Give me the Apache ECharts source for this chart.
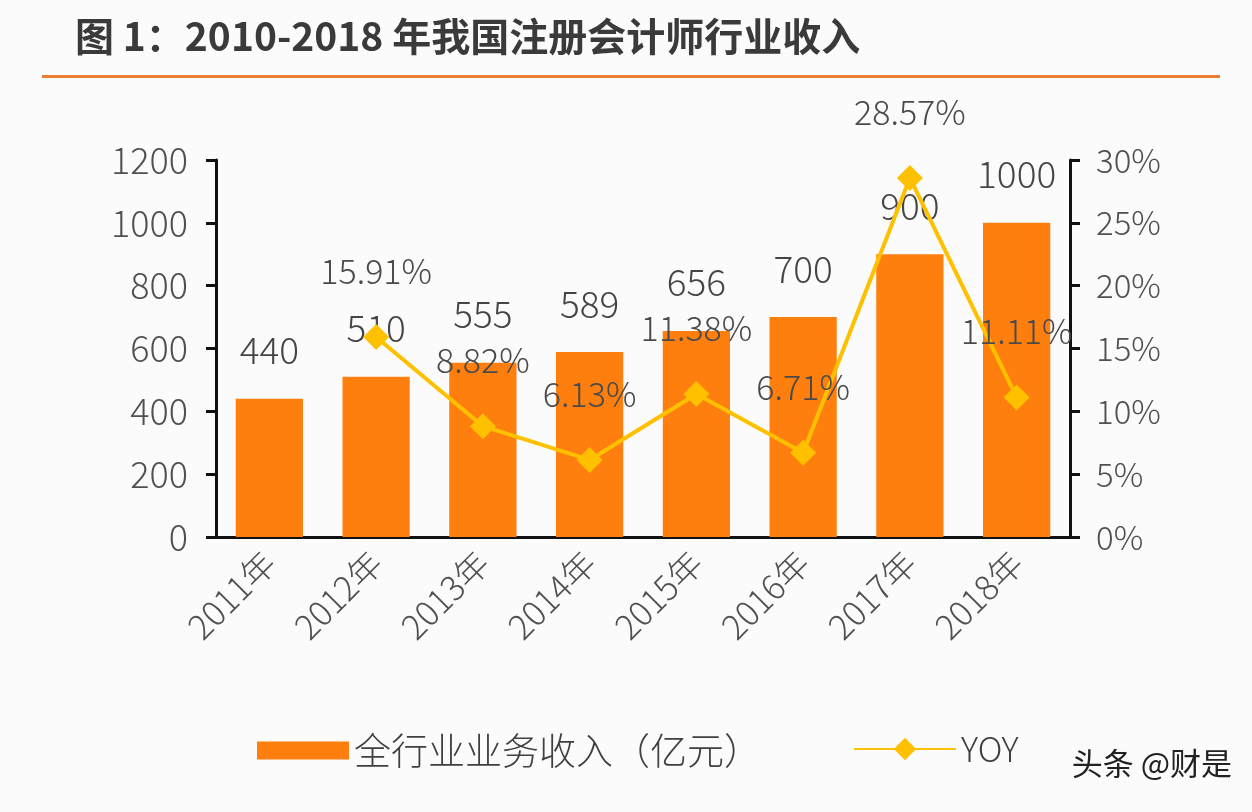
<!DOCTYPE html>
<html><head><meta charset="utf-8">
<script src="https://cdn.jsdelivr.net/npm/echarts@6/dist/echarts.min.js"></script>
<style>html,body{margin:0;padding:0;background:#fbfbfb}#c{width:1252px;height:812px}</style>
</head><body><div id="c"></div>
<script>
const categories = ['2011年','2012年','2013年','2014年','2015年','2016年','2017年','2018年'];
const revenue = [440, 510, 555, 589, 656, 700, 900, 1000];
const yoy = [null, 15.91, 8.82, 6.13, 11.38, 6.71, 28.57, 11.11];
const leftTicks = [0, 200, 400, 600, 800, 1000, 1200];
const rightTicks = [0, 5, 10, 15, 20, 25, 30];
const titleText = '图 1：2010-2018 年我国注册会计师行业收入';
const barName = '全行业业务收入（亿元）';
const lineName = 'YOY';

const font = '"Noto Sans CJK SC", "Noto Sans", sans-serif';
const chart = echarts.init(document.getElementById('c'));
chart.setOption({
  backgroundColor: '#fbfbfb',
  textStyle: {fontFamily: font},
  graphic: [
    {type:'text', left: 75, top: 17, style:{text: titleText, font: 'bold 39px ' + font, fill:'#3a3a3a'}},
    {type:'rect', shape:{x:42, y:75, width:1178, height:3}, style:{fill:'#ED7D31'}},
    {type:'text', right: 20, top: 748, style:{text:'头条 @财是', font: '31px ' + font, fill:'#222'}}
  ],
  grid: {left: 216, right: 182, top: 160, bottom: 275},
  legend: [
    {data:[{name: barName, icon: 'rect'}], left: 252, top: 727, itemWidth: 92, itemHeight: 18, itemGap: 12,
     textStyle:{fontSize: 37, color:'#404040', fontWeight: 300, fontFamily: font}},
    {data:[lineName], left: 848, top: 727, itemWidth: 102, itemHeight: 28,
     textStyle:{fontSize: 34, color:'#404040', fontWeight: 300, fontFamily: font}}
  ],
  xAxis: {
    type: 'category', data: categories,
    axisLine: {show: true, lineStyle: {color: '#111', width: 3}},
    axisTick: {show: false},
    axisLabel: {rotate: 45, fontSize: 34, color: '#505050', margin: 20, fontWeight: 300, interval: 0}
  },
  yAxis: [
    {type:'value', min: 0, max: 1200, interval: 200,
     axisLine:{show:true, lineStyle:{color:'#111', width:3}},
     axisTick:{show:true, length:10, lineStyle:{color:'#111', width:3}},
     splitLine:{show:false},
     axisLabel:{fontSize: 36, color:'#505050', margin: 28, fontWeight: 300,
       formatter: v => leftTicks.includes(v) ? String(v) : ''}},
    {type:'value', min: 0, max: 30, interval: 5, position:'right',
     axisLine:{show:true, lineStyle:{color:'#111', width:3}},
     axisTick:{show:true, length:10, lineStyle:{color:'#111', width:3}},
     splitLine:{show:false},
     axisLabel:{fontSize: 33, color:'#505050', margin: 26, fontWeight: 300,
       formatter: v => rightTicks.includes(v) ? v + '%' : ''}}
  ],
  series: [
    {name: barName, type:'bar', data: revenue, barWidth: '63%', yAxisIndex: 0,
     itemStyle:{color:'#FF7F0E'},
     label:{show:true, position:'top', distance: 30, fontSize: 37, color:'#454545', fontWeight: 300}},
    {name: lineName, type:'line', data: yoy, yAxisIndex: 1, connectNulls: false,
     symbol:'diamond', symbolSize: 26,
     lineStyle:{color:'#FFC000', width: 4}, itemStyle:{color:'#FFC000'},
     label:{show:true, position:'top', distance: 36, fontSize: 34, color:'#4a4a4a', fontWeight: 300,
       formatter: p => p.value == null ? '' : p.value.toFixed(2) + '%'}}
  ]
});
</script></body></html>
